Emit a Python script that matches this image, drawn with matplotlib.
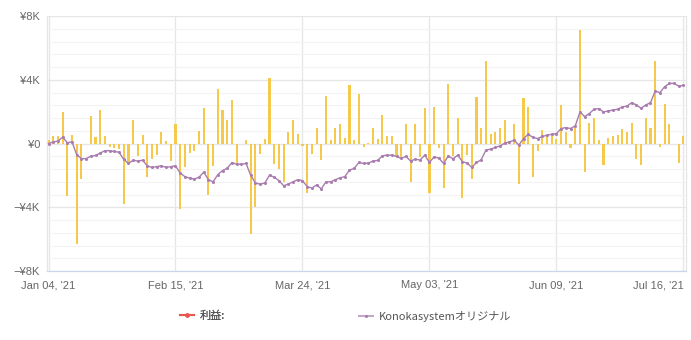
import matplotlib
matplotlib.use("Agg")
import matplotlib.pyplot as plt
from matplotlib.lines import Line2D
from matplotlib.ticker import MultipleLocator, FuncFormatter
import numpy as np

# Daily profit bars (thousands of yen), one per trading day
profit_k = [
    0.2, 0.45, 0.45, 1.95, -3.3, 0.55, -6.3, -2.2, 0.0, 1.7,
    0.4, 2.1, 0.5, -0.25, -0.3, -0.35, -3.8, -1.2, 1.5, -0.8,
    0.55, -2.1, -1.0, -0.7, 0.7, 0.15, -1.1, 1.2, -4.1, -1.5,
    -0.6, -0.5, 0.8, 2.2, -3.2, -1.4, 3.4, 2.1, 1.5, 2.75,
    -1.2, -0.05, 0.25, -5.7, -4.0, -0.65, 0.3, 4.1, -1.3, -1.6,
    -2.4, 0.75, 1.5, 0.6, -0.15, -3.1, -0.65, 0.95, -1.05, 3.0,
    0.2, 1.0, 1.2, 0.35, 3.7, 0.25, 3.1, -0.2, 0.05, 1.0,
    0.3, 1.8, 0.45, 0.45, -0.8, -0.85, 1.2, -2.4, 1.2, -0.85,
    2.2, -3.1, 2.3, -0.3, -2.8, 3.75, -0.8, 1.6, -3.4, -0.75,
    -2.25, 2.9, 1.0, 5.2, 0.6, 0.75, 0.95, 1.5, 0.1, 1.2,
    -2.55, 2.85, 2.3, -2.1, -0.5, 0.85, 0.55, 0.55, 0.3, 2.4,
    0.7, -0.3, 1.0, 7.1, -1.8, 1.3, 1.6, 0.2, -1.35, 0.35,
    0.5, 0.55, 0.9, 0.75, 1.3, -0.95, -1.35, 1.6, 1.0, 5.2,
    -0.2, 2.5, 1.2, 0.0, -1.2, 0.5,
]

# Konokasystem original line (thousands of yen)
konoka_k = [
    0.0, 0.1, 0.15, 0.4, 0.05, 0.1, -0.7, -0.95, -0.95, -0.8,
    -0.75, -0.6, -0.45, -0.45, -0.5, -0.55, -1.0, -1.25, -1.05, -1.1,
    -1.05, -1.4, -1.5, -1.45, -1.4, -1.5, -1.45, -1.4, -1.85, -2.08,
    -2.17, -2.23, -2.12, -1.8, -2.27, -2.4, -1.95, -1.7, -1.55, -1.2,
    -1.3, -1.3, -1.25, -2.0, -2.48, -2.55, -2.48, -1.98, -2.12, -2.33,
    -2.65, -2.55, -2.4, -2.27, -2.33, -2.7, -2.8, -2.6, -2.85, -2.4,
    -2.4, -2.27, -2.15, -2.08, -1.67, -1.56, -1.19, -1.25, -1.23, -1.1,
    -1.06, -0.77, -0.73, -0.73, -0.81, -0.94, -0.81, -1.1, -0.98, -1.04,
    -0.73, -1.19, -0.83, -0.92, -1.25, -0.79, -0.96, -0.73, -1.13, -1.23,
    -1.5, -1.19, -1.02, -0.42, -0.35, -0.25, -0.15, 0.02, 0.1, 0.21,
    -0.1, 0.31, 0.58, 0.38, 0.31, 0.44, 0.52, 0.58, 0.62, 0.94,
    1.0, 0.94, 1.1, 1.98, 1.69, 1.88, 2.15, 2.19, 1.98, 2.04,
    2.1, 2.15, 2.29, 2.35, 2.56, 2.42, 2.21, 2.42, 2.56, 3.29,
    3.19, 3.56, 3.77, 3.77, 3.6, 3.65,
]

tick_labels = ["Jan 04, '21", "Feb 15, '21", "Mar 24, '21",
               "May 03, '21", "Jun 09, '21", "Jul 16, '21"]
tick_index = [0, 27, 54, 81, 108, 135]

legend_labels = ["利益:", "Konokasystemオリジナル"]

profit = np.array(profit_k) * 1000
konoka = np.array(konoka_k) * 1000
x = np.arange(len(profit))

W, H = 691, 340
fig = plt.figure(figsize=(W / 100, H / 100), dpi=100)
ax = fig.add_axes([47 / W, 1 - 271 / H, (686 - 47) / W, (271 - 16) / H])

ax.bar(x, profit, width=0.45, color="#F7C94A", zorder=2, linewidth=0)
ax.plot(x, konoka, color="#A97DAF", lw=1.0, marker="o", ms=2.2,
        markeredgewidth=0, zorder=3)

ax.set_xlim(-0.32, 135.55)
ax.set_ylim(-8000, 8000)
ax.yaxis.set_major_locator(MultipleLocator(4000))
ax.yaxis.set_minor_locator(MultipleLocator(800))


def yfmt(v, pos):
    v = int(round(v))
    if v == 0:
        return "¥0"
    s = "¥%dK" % (abs(v) // 1000)
    return ("\u2212" + s) if v < 0 else s


ax.yaxis.set_major_formatter(FuncFormatter(yfmt))
ax.set_xticks(tick_index)
ax.set_xticklabels(tick_labels)

ax.grid(True, which="major", axis="y", color="#E6E6E6", lw=0.9, zorder=0)
ax.grid(True, which="minor", axis="y", color="#F3F3F3", lw=0.8, zorder=0)
ax.grid(True, which="major", axis="x", color="#E6E6E6", lw=0.9, zorder=0)

ax.spines["top"].set_visible(False)
ax.spines["right"].set_color("#E6E6E6")
ax.spines["left"].set_color("#E6E6E6")
ax.spines["bottom"].set_color("#CCD6EB")
for sp in ax.spines.values():
    sp.set_linewidth(0.9)

ax.tick_params(axis="y", which="both", length=0, labelsize=8,
               labelcolor="#666666", pad=5)
ax.tick_params(axis="x", which="major", length=0, labelsize=8,
               labelcolor="#666666", pad=6.5)
for lab in ax.get_yticklabels() + ax.get_xticklabels():
    lab.set_fontfamily(["Liberation Sans", "DejaVu Sans"])
xl = ax.get_xticklabels()
xl[-1].set_horizontalalignment("right")
xl[-1].set_x(tick_index[-1] + 0.6)

fam = ["Noto Sans CJK JP", "DejaVu Sans"]
h1 = Line2D([], [], color="#E8574F", lw=1.5, marker="o", ms=2.2)
h2 = Line2D([], [], color="#C4A8C8", lw=1.5, marker="o", ms=2.2,
            markerfacecolor="#A77BAE", markeredgewidth=0)
leg1 = fig.legend([h1], [legend_labels[0]], loc="center left",
                  bbox_to_anchor=(170 / W, 1 - 316 / H), frameon=False,
                  prop={"family": fam, "size": 8}, handlelength=1.3,
                  handletextpad=0.5, labelcolor="#555555")
fig.add_artist(leg1)
leg2 = fig.legend([h2], [legend_labels[1]], loc="center left",
                  bbox_to_anchor=(349 / W, 1 - 316 / H), frameon=False,
                  prop={"family": fam, "size": 8}, handlelength=1.3,
                  handletextpad=0.5, labelcolor="#555555")

fig.savefig("out.png", dpi=100)
